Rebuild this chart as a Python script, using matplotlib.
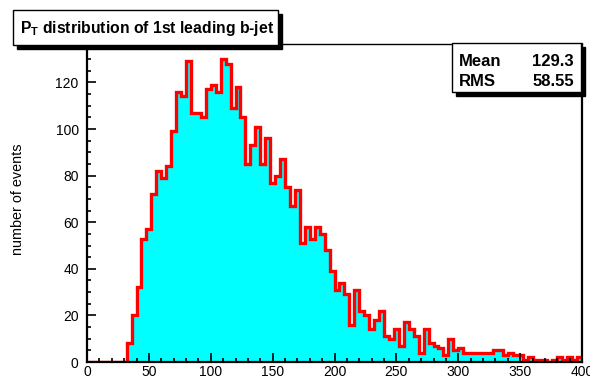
import matplotlib
matplotlib.use('Agg')
import matplotlib.pyplot as plt
from matplotlib.patches import Rectangle
import numpy as np

# histogram: 100 bins of 4 GeV between 0 and 400
x_min, x_max, n_bins = 0, 400, 100
counts = [
    0, 0, 0, 0, 0, 0, 0, 0, 8, 20,
    32, 53, 57, 72, 82, 79, 84, 99, 116, 114,
    129, 107, 107, 105, 117, 119, 116, 130, 128, 109,
    118, 105, 85, 93, 101, 85, 96, 77, 80, 87,
    75, 67, 74, 51, 58, 53, 58, 55, 48, 39,
    31, 34, 29, 16, 31, 22, 20, 14, 18, 22,
    11, 10, 14, 7, 17, 14, 11, 4, 14, 8,
    7, 6, 3, 10, 5, 6, 4, 4, 4, 4,
    4, 4, 5, 5, 3, 4, 3, 3, 1, 2,
    1, 1, 1, 0, 1, 2, 1, 2, 1, 2,
]
x_ticks = [0, 50, 100, 150, 200, 250, 300, 350, 400]
y_ticks = [0, 20, 40, 60, 80, 100, 120]
title = "P$_{\\mathrm{T}}$ distribution of 1st leading b-jet"
stats_names = ["Mean", "RMS"]
stats_values = ["129.3", "58.55"]

plt.rcParams['font.family'] = ['Liberation Sans', 'DejaVu Sans']
plt.rcParams['mathtext.fontset'] = 'custom'
plt.rcParams['mathtext.rm'] = 'Liberation Sans:bold'
plt.rcParams['mathtext.bf'] = 'Liberation Sans:bold'

W, H, DPI = 590, 376, 100


def fx(px):
    return px / W


def fy(py):
    return 1 - py / H


fig = plt.figure(figsize=(W / DPI, H / DPI), dpi=DPI)
fig.patch.set_facecolor('white')

ax = fig.add_axes([fx(87), fy(362), fx(582) - fx(87), fy(44) - fy(362)])
edges = np.linspace(x_min, x_max, n_bins + 1)
ax.stairs(counts, edges, fill=True, color='#00ffff', lw=0)
ax.stairs(counts, edges, color='red', lw=2.4)

ax.set_xlim(x_min, x_max)
ax.set_ylim(0, 1.05 * max(counts))
ax.set_xticks(x_ticks)
ax.set_xticks(np.arange(0, 401, 10), minor=True)
ax.set_yticks(y_ticks)
ax.set_yticks(np.arange(0, 131, 5), minor=True)
ax.tick_params(which='both', direction='in', top=False, right=False, width=1.2)
ax.tick_params(which='major', length=6.5, labelsize=10)
ax.tick_params(which='minor', length=3.2)
ax.tick_params(axis='y', pad=6)
ax.tick_params(axis='x', pad=2)
for side in ['left', 'bottom', 'right']:
    ax.spines[side].set_linewidth(1.6)
ax.spines['top'].set_linewidth(1.0)

fig.text(fx(18), fy(199), "number of events", rotation=90,
         ha='center', va='center', fontsize=10.4)

# title box with shadow
fig.patches.append(Rectangle((fx(17), fy(49)), fx(265), fy(10) - fy(45),
                             transform=fig.transFigure, facecolor='black',
                             edgecolor='black', zorder=5))
fig.patches.append(Rectangle((fx(13), fy(45)), fx(265), fy(10) - fy(45),
                             transform=fig.transFigure, facecolor='white',
                             edgecolor='black', lw=1, zorder=6))
fig.text(fx(20), fy(28), title, ha='left', va='center', fontsize=11.3,
         fontweight='bold', zorder=7)

# stats box with shadow
fig.patches.append(Rectangle((fx(456), fy(96)), fx(129), fy(43) - fy(92),
                             transform=fig.transFigure, facecolor='black',
                             edgecolor='black', zorder=5))
fig.patches.append(Rectangle((fx(452), fy(92)), fx(129), fy(43) - fy(92),
                             transform=fig.transFigure, facecolor='white',
                             edgecolor='black', lw=1, zorder=6))
for i, (name, val) in enumerate(zip(stats_names, stats_values)):
    y = fy(61 + 21 * i)
    fig.text(fx(459), y, name, ha='left', va='center', fontsize=12,
             fontweight='bold', zorder=7)
    fig.text(fx(574), y, val, ha='right', va='center', fontsize=12,
             fontweight='bold', zorder=7)

fig.savefig('out.png', dpi=DPI)
